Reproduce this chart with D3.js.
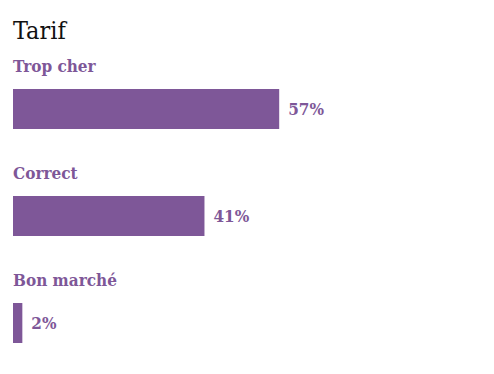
<!DOCTYPE html>
<html>
<head>
<meta charset="utf-8">
<script src="https://cdn.jsdelivr.net/npm/d3@7"></script>
<style>
  body { margin: 0; background: #fff; }
  text { font-family: "Roboto Slab", "DejaVu Serif Condensed", "DejaVu Serif", serif; }
</style>
</head>
<body>
<div id="chart"></div>
<script>
// data
var categories = ["Trop cher", "Correct", "Bon marché"];
var values = [57, 41, 2];

var w = 494;
var h = 374;
var purple = "#7e5798";

var svg = d3.select("#chart")
            .append("svg")
            .attr("width", w)
            .attr("height", h);

// title
svg.append("text")
   .attr("x", 13)
   .attr("y", 39)
   .attr("font-size", 25)
   .attr("font-weight", 300)
   .attr("fill", "#111")
   .text("Tarif");

// x scale: percent to pixels
var x = d3.scaleLinear().domain([0, 100]).range([13, 480]);

// rows, each row = label + bar
var y = d3.scaleBand().domain(categories).range([56, 377]).paddingInner(0).paddingOuter(0);

var rows = svg.selectAll("g.row")
   .data(categories)
   .enter()
   .append("g")
   .attr("class", "row")
   .attr("transform", function(d) { return "translate(0," + y(d) + ")"; });

rows.append("text")
   .attr("x", 13)
   .attr("y", 16)
   .attr("font-size", 17)
   .attr("font-weight", "bold")
   .attr("fill", purple)
   .text(function(d) { return d; });

rows.append("rect")
   .attr("x", x(0))
   .attr("y", 33)
   .attr("height", 40)
   .attr("width", function(d, i) { return x(values[i]) - x(0); })
   .attr("fill", purple);

rows.append("text")
   .attr("x", function(d, i) { return x(values[i]) + 9; })
   .attr("y", 53)
   .attr("dy", "0.35em")
   .attr("font-size", 17)
   .attr("font-weight", "bold")
   .attr("fill", purple)
   .text(function(d, i) { return values[i] + "%"; });
</script>
</body>
</html>
